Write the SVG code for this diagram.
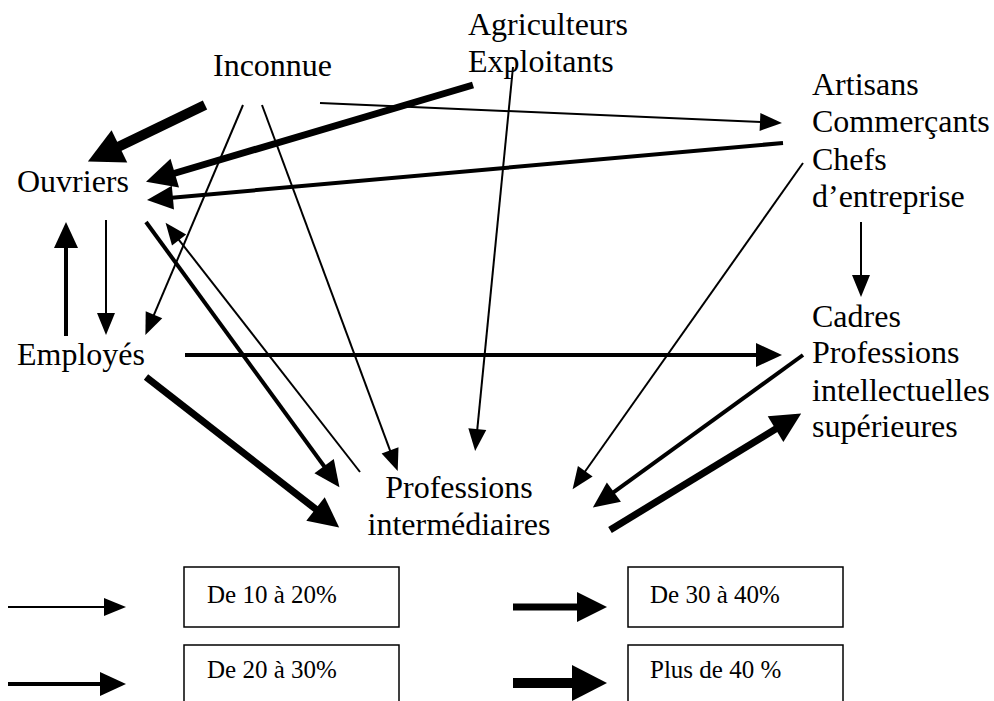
<svg xmlns="http://www.w3.org/2000/svg" width="994" height="701" viewBox="0 0 994 701">
  <style>
    .lbl { font-family: "Liberation Serif", "Times New Roman", serif; font-size: 32px; fill: #000; }
    .key { font-family: "Liberation Serif", "Times New Roman", serif; font-size: 25px; fill: #000; }
    .box { fill: #fff; stroke: #000; stroke-width: 1.5; }
    .c { stroke: #000; fill: none; stroke-linecap: butt; }
    .w1 { stroke-width: 2; marker-end: url(#h1); }
    .w2 { stroke-width: 4; marker-end: url(#h2); }
    .w3 { stroke-width: 7; marker-end: url(#h3); }
    .w4 { stroke-width: 10; marker-end: url(#h4); }
  </style>
  <defs>
    <!-- arrowheads sized per flow band, drawn from the base of the head -->
    <marker id="h1" markerUnits="userSpaceOnUse" viewBox="0 -9 22 18" markerWidth="22" markerHeight="18" refX="1" refY="0" orient="auto" overflow="visible">
      <path d="M0,-9L22,0L0,9z" fill="#000"/>
    </marker>
    <marker id="h2" markerUnits="userSpaceOnUse" viewBox="0 -12 26 24" markerWidth="26" markerHeight="24" refX="1" refY="0" orient="auto" overflow="visible">
      <path d="M0,-12L26,0L0,12z" fill="#000"/>
    </marker>
    <marker id="h3" markerUnits="userSpaceOnUse" viewBox="0 -15 30 30" markerWidth="30" markerHeight="30" refX="1" refY="0" orient="auto" overflow="visible">
      <path d="M0,-15L30,0L0,15z" fill="#000"/>
    </marker>
    <marker id="h4" markerUnits="userSpaceOnUse" viewBox="0 -18 35 36" markerWidth="35" markerHeight="36" refX="1" refY="0" orient="auto" overflow="visible">
      <path d="M0,-18L35,0L0,18z" fill="#000"/>
    </marker>
  </defs>

  <rect width="994" height="701" fill="#fff"/>

  <!-- flows between categories -->
  <g id="connectors">
    <line class="c w4" x1="205" y1="105" x2="118.5" y2="146.8"/>
    <line class="c w3" x1="473" y1="85" x2="173.8" y2="173.5"/>
    <line class="c w2" x1="783" y1="143" x2="171.9" y2="197.7"/>
    <line class="c w1" x1="320" y1="103" x2="761" y2="122"/>
    <line class="c w1" x1="513" y1="67" x2="477.2" y2="430.1"/>
    <line class="c w1" x1="243" y1="105" x2="153.6" y2="315.7"/>
    <line class="c w1" x1="262" y1="105" x2="390.4" y2="451.4"/>
    <line class="c w1" x1="106" y1="220" x2="106" y2="314"/>
    <line class="c w2" x1="66" y1="336" x2="66" y2="247"/>
    <line class="c w2" x1="146" y1="222" x2="324.7" y2="467"/>
    <line class="c w1" x1="360" y1="472" x2="178.5" y2="239.3"/>
    <line class="c w3" x1="146" y1="377" x2="316.3" y2="509.6"/>
    <line class="c w2" x1="185" y1="355" x2="757" y2="355"/>
    <line class="c w1" x1="803" y1="163" x2="584.7" y2="472"/>
    <line class="c w1" x1="861" y1="222" x2="861" y2="276"/>
    <line class="c w2" x1="803" y1="355" x2="613.1" y2="492.7"/>
    <line class="c w3" x1="610" y1="530" x2="776.4" y2="428.6"/>
  </g>

  <!-- categories -->
  <g id="inconnue"><text class="lbl" x="213" y="76">Inconnue</text></g>
  <g id="agriculteurs">
    <text class="lbl" x="468" y="35">Agriculteurs</text>
    <text class="lbl" x="468" y="72">Exploitants</text>
  </g>
  <g id="artisans">
    <text class="lbl" x="812" y="95">Artisans</text>
    <text class="lbl" x="812" y="132">Commerçants</text>
    <text class="lbl" x="812" y="170">Chefs</text>
    <text class="lbl" x="812" y="207">d’entreprise</text>
  </g>
  <g id="ouvriers"><text class="lbl" x="17" y="192">Ouvriers</text></g>
  <g id="employes"><text class="lbl" x="17" y="365">Employés</text></g>
  <g id="cadres">
    <text class="lbl" x="812" y="327">Cadres</text>
    <text class="lbl" x="812" y="363">Professions</text>
    <text class="lbl" x="812" y="401">intellectuelles</text>
    <text class="lbl" x="812" y="437">supérieures</text>
  </g>
  <g id="intermediaires">
    <text class="lbl" x="459" y="498" text-anchor="middle">Professions</text>
    <text class="lbl" x="459" y="535" text-anchor="middle">intermédiaires</text>
  </g>

  <!-- key of line weights -->
  <g id="legend">
    <line class="c w1" x1="8" y1="607" x2="105" y2="607"/>
    <rect class="box" x="184" y="567" width="215" height="60"/>
    <text class="key" x="207" y="603">De 10 à 20%</text>

    <line class="c w2" x1="8" y1="684" x2="101" y2="684"/>
    <rect class="box" x="184" y="645" width="215" height="70"/>
    <text class="key" x="207" y="678">De 20 à 30%</text>

    <line class="c w3" x1="513" y1="607" x2="578" y2="607"/>
    <rect class="box" x="628" y="567" width="215" height="60"/>
    <text class="key" x="650" y="603">De 30 à 40%</text>

    <line class="c w4" x1="513" y1="683" x2="573" y2="683"/>
    <rect class="box" x="628" y="645" width="215" height="70"/>
    <text class="key" x="650" y="678">Plus de 40 %</text>
  </g>
</svg>
